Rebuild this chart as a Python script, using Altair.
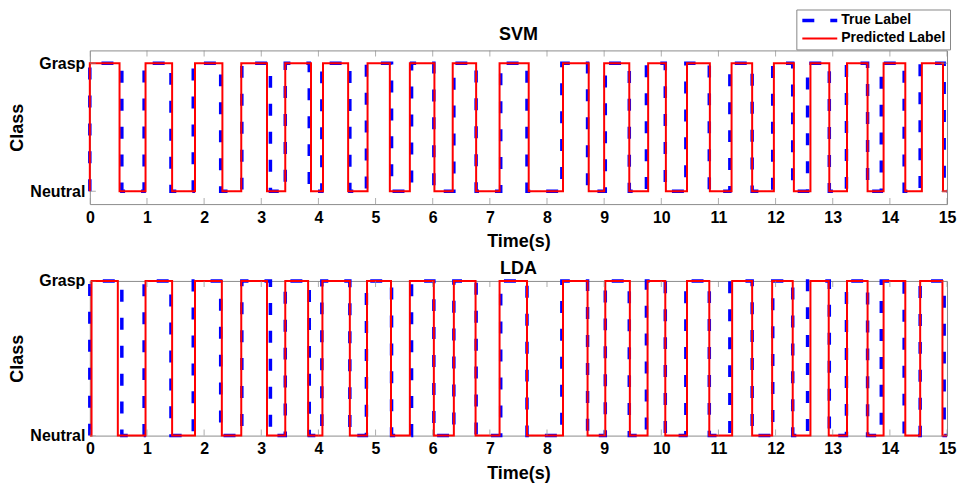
import altair as alt
import pandas as pd

# ---- data ----
x_ticks = [0, 1, 2, 3, 4, 5, 6, 7, 8, 9, 10, 11, 12, 13, 14, 15]
class_values = [0, 1]
class_labels = ["Neutral", "Grasp"]
series_names = ["True Label", "Predicted Label"]

true_t = [0, 0, 0.56, 0.95, 1.42, 1.81, 2.29, 2.66, 3.16, 3.42, 3.84, 4.06, 4.55, 4.84,
          5.28, 5.63, 6.02, 6.37, 6.76, 7.19, 7.65, 8.26, 8.71, 9.02, 9.44, 9.74,
          10.07, 10.43, 10.84, 11.20, 11.59, 11.95, 12.30, 12.56, 12.94, 13.24, 13.61,
          13.85, 14.25, 14.53, 14.95, 15]
true_v = [0, 1, 0, 1, 0, 1, 0, 1, 0, 1, 0, 1, 0, 1,
          0, 1, 0, 1, 0, 1, 0, 1, 0, 1, 0, 1,
          0, 1, 0, 1, 0, 1, 0, 1, 0, 1, 0,
          1, 0, 1, 0, 0]

svm_t = [0, 0, 0.52, 0.975, 1.44, 1.84, 2.32, 2.65, 3.10, 3.42, 3.87, 4.08, 4.52, 4.86,
         5.25, 5.60, 6.03, 6.35, 6.76, 7.17, 7.68, 8.28, 8.73, 9.00, 9.44, 9.77,
         10.08, 10.45, 10.85, 11.23, 11.59, 11.97, 12.32, 12.61, 12.94, 13.25, 13.61,
         13.89, 14.27, 14.56, 14.93, 15]
svm_v = [0, 1, 0, 1, 0, 1, 0, 1, 0, 1, 0, 1, 0, 1,
         0, 1, 0, 1, 0, 1, 0, 1, 0, 1, 0, 1,
         0, 1, 0, 1, 0, 1, 0, 1, 0, 1, 0,
         1, 0, 1, 0, 0]

lda_t = [0, 0.03, 0.49, 0.975, 1.44, 1.84, 2.31, 2.65, 3.10, 3.42, 3.82, 4.07, 4.55, 4.85,
         5.27, 5.60, 6.02, 6.37, 6.75, 7.17, 7.65, 8.28, 8.71, 9.02, 9.45, 9.76,
         10.07, 10.45, 10.84, 11.24, 11.59, 11.94, 12.30, 12.61, 12.93, 13.25, 13.61,
         13.89, 14.27, 14.53, 14.92, 15]
lda_v = [0, 1, 0, 1, 0, 1, 0, 1, 0, 1, 0, 1, 0, 1,
         0, 1, 0, 1, 0, 1, 0, 1, 0, 1, 0, 1,
         0, 1, 0, 1, 0, 1, 0, 1, 0, 1, 0,
         1, 0, 1, 0, 0]

FONT = "Liberation Sans"
W = 859
BOX = "#8c8c8c"


def frame(t, v, name):
    return pd.DataFrame({"t": t, "v": v, "series": name, "idx": list(range(len(t)))})


label_expr = " : ".join(
    [f"datum.value == {val} ? '{lab}'" for val, lab in zip(class_values[1:], class_labels[1:])]
    + [f"'{class_labels[0]}'"]
)

leg = alt.Legend(orient="none", legendX=708, legendY=-41, symbolType="stroke",
                 symbolSize=1225, clipHeight=14, strokeColor="#888888", fillColor="white",
                 padding=4, rowPadding=4, labelFont=FONT, labelFontSize=14,
                 labelFontWeight="bold", labelColor="black", labelOffset=2,
                 cornerRadius=0)


def panel(title, pred_t, pred_v, ydom, h, toff):
    df = pd.concat([frame(true_t, true_v, series_names[0]),
                    frame(pred_t, pred_v, series_names[1])], ignore_index=True)
    xs = alt.Scale(domain=[0, 15], nice=False, zero=False)
    ys = alt.Scale(domain=ydom, nice=False, zero=False)
    X = alt.X("t:Q", scale=xs,
              axis=alt.Axis(values=x_ticks, format="d", ticks=False, domain=False,
                            grid=False, labelPadding=5, labelFlush=False,
                            title="Time(s)", titlePadding=8))
    Y = alt.Y("v:Q", scale=ys,
              axis=alt.Axis(values=class_values, labelExpr=label_expr, ticks=False,
                            domain=False, grid=False, labelPadding=5, title="Class",
                            titlePadding=3))
    color = alt.Color("series:N", title=None,
                      scale=alt.Scale(domain=series_names, range=["#0000ff", "#ff0000"]),
                      legend=leg)
    dash = alt.StrokeDash("series:N", title=None,
                          scale=alt.Scale(domain=series_names, range=[[12, 16], [1, 0]]),
                          legend=leg)
    sw = alt.StrokeWidth("series:N", title=None,
                         scale=alt.Scale(domain=series_names, range=[3.5, 2]),
                         legend=leg)
    base = alt.Chart(df)
    layers = []
    for name in series_names:
        layers.append(
            base.transform_filter(alt.datum.series == name)
            .mark_line(interpolate="step-after", strokeCap="butt")
            .encode(x=X, y=Y, color=color, strokeDash=dash, strokeWidth=sw,
                    order=alt.Order("idx:Q"))
        )
    xt = alt.Chart(pd.DataFrame({"t": x_ticks}))
    yt = alt.Chart(pd.DataFrame({"v": class_values}))
    tk = dict(clip=True, size=12, thickness=1, color=BOX)
    layers.append(xt.mark_tick(**tk).encode(x=X, y=alt.value(0)))
    layers.append(xt.mark_tick(**tk).encode(x=X, y=alt.value(h)))
    layers.append(yt.mark_tick(**tk).encode(y=Y, x=alt.value(0)))
    layers.append(yt.mark_tick(**tk).encode(y=Y, x=alt.value(W)))
    return alt.layer(*layers).properties(
        width=W, height=h,
        title=alt.TitleParams(title, frame="group", anchor="middle", offset=toff))


svm = panel("SVM", svm_t, svm_v, [-0.1, 1.1], 154, 6)
lda = panel("LDA", lda_t, lda_v, [0, 1], 155, -5)

chart = (
    alt.vconcat(svm, lda, spacing=7)
    .properties(padding={"left": 0, "top": 0, "right": 0, "bottom": 0}, background="white")
    .configure_view(stroke=BOX, strokeWidth=1)
    .configure_axis(labelFont=FONT, labelFontWeight="bold", labelColor="black",
                    labelFontSize=16, titleFont=FONT, titleFontWeight="bold",
                    titleColor="black", titleFontSize=18)
    .configure_title(font=FONT, fontSize=18, fontWeight="bold", color="black")
)

chart.save("out.html", embed_options={"renderer": "svg", "actions": False})
